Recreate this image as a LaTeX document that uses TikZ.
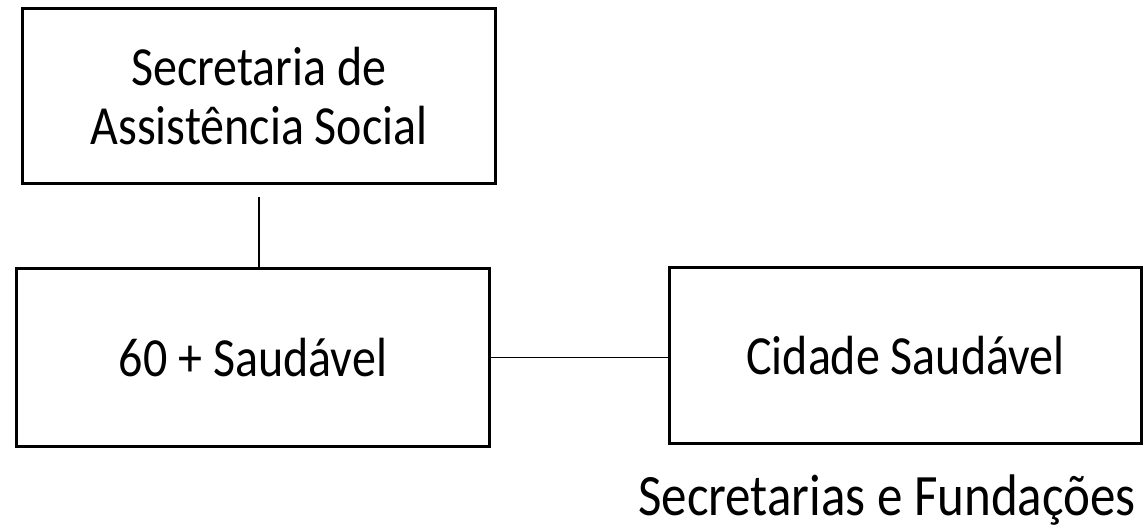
\documentclass[tikz,border=0pt]{standalone}
\usepackage{fontspec}
\usepackage{graphicx}
\setmainfont{Carlito}
\usetikzlibrary{calc,positioning}
% texto um pouco mais alto que largo, como no original
\newcommand{\alto}[1]{\scalebox{1}[1.15]{#1}}

\begin{document}
\begin{tikzpicture}[x=0.5pt,y=-0.5pt,
    caixa/.style={draw,line width=1.5pt,inner sep=0pt,outer sep=0pt,
      align=center,font=\fontsize{24}{29.3}\selectfont},
    ligacao/.style={line width=0.6pt},
    rotulo/.style={inner sep=0pt,font=\fontsize{25.5}{31}\selectfont}]
            \useasboundingbox (0,0) rectangle (1145,530);

            \node[caixa,minimum width=236.5pt,minimum height=87.5pt] (sas) at (259,96) {\alto{Secretaria de}\\\alto{Assistência Social}};
            \node[caixa,minimum width=236.5pt,minimum height=89pt] (mais) at (253,357.5) {\alto{60 + Saudável}};
            \node[caixa,minimum width=236pt,minimum height=88pt] (cidade) at (905.5,355.5) {\alto{Cidade Saudável}};

            \node[rotulo,anchor=base] (fund) at (887,515) {\alto{Secretarias e Fundações}};

            \draw[ligacao] ($ (sas.south) + (0,13.5) $) -- ($ (sas.south |- mais.north) + (0,1.5) $);
            \draw[ligacao] (mais.east) -- (mais.east -| cidade.west);
        \end{tikzpicture}
\end{document}
